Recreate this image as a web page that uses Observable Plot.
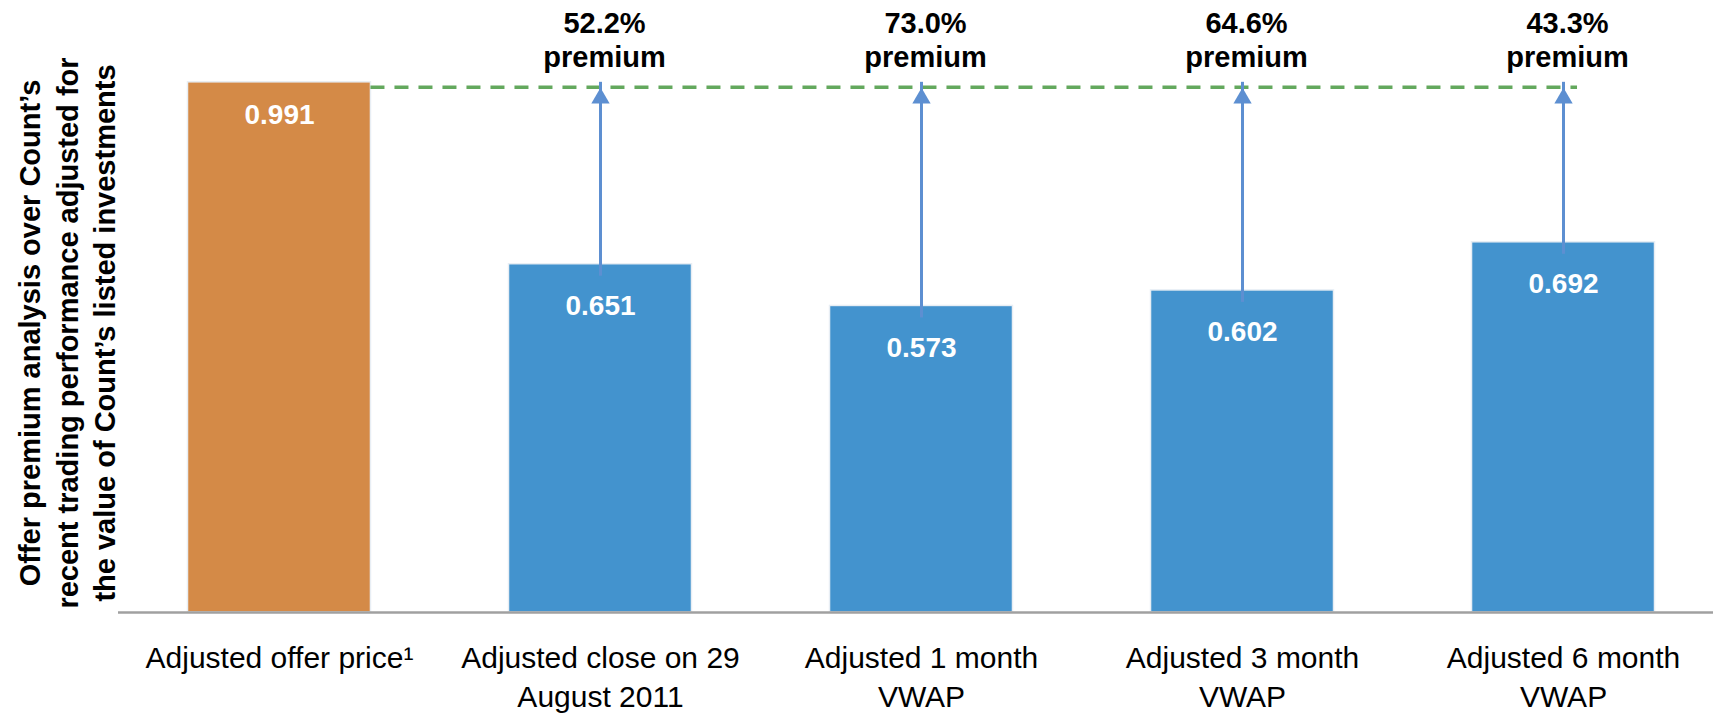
<!DOCTYPE html>
<html>
<head>
<meta charset="utf-8">
<script src="https://cdn.jsdelivr.net/npm/d3@7"></script>
<script src="https://cdn.jsdelivr.net/npm/@observablehq/plot@0.6"></script>
<style>
  html, body { margin: 0; padding: 0; background: #ffffff; }
  #chart { width: 1713px; height: 714px; overflow: hidden; }
</style>
</head>
<body>
<div id="chart"></div>
<script>
// ---- data ----
const categories = [
  "Adjusted offer price¹",
  "Adjusted close on 29 August 2011",
  "Adjusted 1 month VWAP",
  "Adjusted 3 month VWAP",
  "Adjusted 6 month VWAP"
];
const tickLabels = [
  "Adjusted offer price¹",
  "Adjusted close on 29\nAugust 2011",
  "Adjusted 1 month\nVWAP",
  "Adjusted 3 month\nVWAP",
  "Adjusted 6 month\nVWAP"
];
const values = [0.991, 0.651, 0.573, 0.602, 0.692];
const valueLabels = ["0.991", "0.651", "0.573", "0.602", "0.692"];
const premiums = [null, "52.2%", "73.0%", "64.6%", "43.3%"];
const yTitle = "Offer premium analysis over Count’s\nrecent trading performance adjusted for\nthe value of Count’s listed investments";

// ---- layout / style ----
const W = 1713, H = 714;
const mLeft = 118, mRight = 0, mTop = 77, mBottom = 102;
const xRange = [118, 1724];
const padInner = 0.43, padOuter = 0.2165;
const ORANGE = "#d48a47", BLUE = "#4393ce", ARROW = "#5d8fd1", GREEN = "#63a85d";
const FONT = "'Liberation Sans', Arial, Helvetica, sans-serif";

const rows = categories.map((c, i) => ({
  category: c, value: values[i], label: valueLabels[i], tick: tickLabels[i], premium: premiums[i]
}));
const offerRow = rows[0];
const marketRows = rows.slice(1);
const offer = offerRow.value;

// band geometry (same parameters as the Plot x scale) for the dashed reference line extent
const xb = d3.scaleBand(categories, xRange).paddingInner(padInner).paddingOuter(padOuter).align(0.5);
const lineStart = xb(categories[0]) + xb.bandwidth();
const lineEnd = xb(categories[categories.length - 1]) + xb.bandwidth() / 2 + 14;

const chart = Plot.plot({
  width: W,
  height: H,
  marginLeft: mLeft,
  marginRight: mRight,
  marginTop: mTop,
  marginBottom: mBottom,
  style: { fontFamily: FONT, background: "#ffffff", overflow: "visible" },
  x: { type: "band", domain: categories, range: xRange, paddingInner: padInner, paddingOuter: padOuter, align: 0.5, round: false, axis: null },
  y: { domain: [0, 1], axis: null },
  marks: [
    Plot.barY([offerRow], { x: "category", y: "value", fill: ORANGE, stroke: "#e8eef4", strokeWidth: 1.5 }),
    Plot.barY(marketRows, { x: "category", y: "value", fill: BLUE, stroke: "#e8eef4", strokeWidth: 1.5 }),
    Plot.ruleY([0], { stroke: "#a0a0a0", strokeWidth: 2.5 }),
    // dashed offer-price reference line
    Plot.ruleY([offer], { y: d => d, dy: 5, insetLeft: lineStart - mLeft, insetRight: W - mRight - lineEnd,
      stroke: GREEN, strokeWidth: 3.5, strokeDasharray: "14,10" }),
    // arrows from each market bar up to the offer line
    Plot.ruleX(marketRows, { x: "category", y1: "value", y2: () => offer, insetTop: 12, stroke: ARROW, strokeWidth: 3 }),
    Plot.dot(marketRows, { x: "category", y: () => offer, dy: 16, symbol: "triangle", r: 6.8, fill: ARROW, stroke: "none" }),
    // value labels inside bars
    Plot.text([offerRow], { x: "category", y: "value", text: "label", dy: 33, lineAnchor: "middle",
      fill: "#ffffff", fontSize: 28, fontWeight: "bold" }),
    Plot.text(marketRows, { x: "category", y: "value", text: "label", dy: 42, lineAnchor: "middle",
      fill: "#ffffff", fontSize: 28, fontWeight: "bold" }),
    // premium labels
    Plot.text(marketRows, { x: "category", y: () => offer, text: d => d.premium + "\npremium", lineAnchor: "bottom",
      lineHeight: 1.2, dy: -15, dx: 4, fill: "#000000", fontSize: 29, fontWeight: "bold" }),
    // category labels
    Plot.text(rows, { x: "category", y: () => 0, text: "tick", lineAnchor: "top", lineHeight: 1.3, dy: 28,
      fill: "#000000", fontSize: 30 }),
    // y-axis title
    Plot.text([yTitle], { frameAnchor: "left", text: d => d, rotate: -90, dx: -53, dy: -12, lineAnchor: "middle",
      textAnchor: "middle", lineHeight: 1.3, fontSize: 29, fontWeight: "bold", fill: "#000000" })
  ]
});

document.getElementById("chart").appendChild(chart);
</script>
</body>
</html>
